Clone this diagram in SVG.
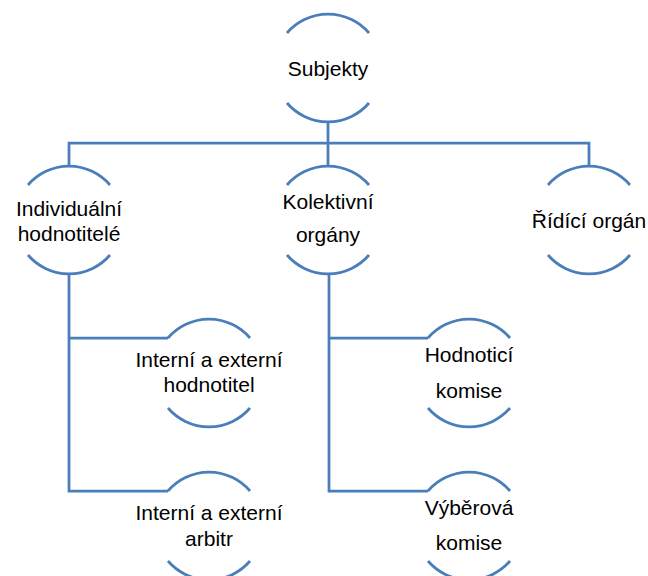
<svg xmlns="http://www.w3.org/2000/svg" xmlns:xlink="http://www.w3.org/1999/xlink" width="648" height="576" viewBox="0 0 648 576">
<style>
.ln{fill:none;stroke:#4A7EBB;stroke-width:2.75}
.t{font-family:"Liberation Sans",Arial,sans-serif;font-size:21px;fill:#000;text-anchor:middle}
</style>
<defs>
<path id="arcs" class="ln" d="M -41 -35 A 54 54 0 0 1 41 -35 M -41 35 A 54 54 0 0 0 41 35"/>
</defs>
<rect width="648" height="576" fill="#fff"/>
<g id="connectors" class="ln">
<path d="M 328 122 V 143 M 69 166 V 143 H 589 V 166 M 328 143 V 166"/>
<path d="M 69 274 V 491 H 168 M 69 338 H 168"/>
<path d="M 329 274 V 491 H 428 M 329 338 H 428"/>
</g>
<g id="subjekty" transform="translate(328,68)">
<use xlink:href="#arcs"/>
<text class="t" x="0" y="7.5">Subjekty</text>
</g>
<g id="individualni" transform="translate(69,220)">
<use xlink:href="#arcs"/>
<text class="t" x="0" y="-4">Individuální</text>
<text class="t" x="0" y="21">hodnotitelé</text>
</g>
<g id="kolektivni" transform="translate(328,220)">
<use xlink:href="#arcs"/>
<text class="t" x="0" y="-11">Kolektivní</text>
<text class="t" x="0" y="22">orgány</text>
</g>
<g id="ridici" transform="translate(589,220)">
<use xlink:href="#arcs"/>
<text class="t" x="0" y="7.5">Řídící orgán</text>
</g>
<g id="hodnotitel" transform="translate(209,373)">
<use xlink:href="#arcs"/>
<text class="t" x="0" y="-6">Interní a externí</text>
<text class="t" x="0" y="19">hodnotitel</text>
</g>
<g id="hodnotici-komise" transform="translate(469,373)">
<use xlink:href="#arcs"/>
<text class="t" x="0" y="-11">Hodnoticí</text>
<text class="t" x="0" y="25">komise</text>
</g>
<g id="arbitr" transform="translate(209,526)">
<use xlink:href="#arcs"/>
<text class="t" x="0" y="-6">Interní a externí</text>
<text class="t" x="0" y="20">arbitr</text>
</g>
<g id="vyberova-komise" transform="translate(469,526)">
<use xlink:href="#arcs"/>
<text class="t" x="0" y="-11">Výběrová</text>
<text class="t" x="0" y="24">komise</text>
</g>
</svg>
